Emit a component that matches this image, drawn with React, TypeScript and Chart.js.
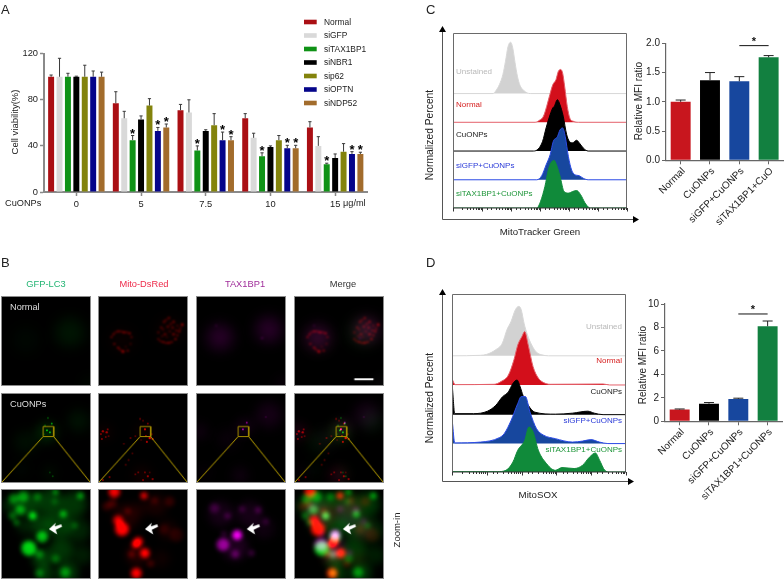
import React, { useEffect, useRef } from "react";
import { Chart, registerables } from "chart.js";

Chart.register(...registerables);
Chart.defaults.font.family = "'Liberation Sans', Arial, sans-serif";
Chart.defaults.devicePixelRatio = 1 as any;

/* ---------- Panel A ---------- */
const doses = ["0", "5", "7.5", "10", "15"];
const seriesNames = ["Normal", "siGFP", "siTAX1BP1", "siNBR1", "sip62", "siOPTN", "siNDP52"];
const seriesColors = ["#aa0f14", "#d9d9d9", "#0f9216", "#000000", "#83830c", "#05058a", "#a26c2c"];
const normalVals = [100, 77, 71, 64, 56];
const normalTop = [101.5, 87, 76, 68, 61];
const sigfpVals = [100, 64, 69, 47, 40];
const sigfpTop = [116, 70, 80, 51, 48];
const tax1bp1Vals = [100, 45, 36, 31, 24];
const tax1bp1Top = [103, 49, 40, 34, 25];
const nbr1Vals = [100, 63, 53, 39, 29.5];
const nbr1Top = [100.5, 66, 54, 40, 33];
const p62Vals = [100, 75, 58, 45, 35];
const p62Top = [110, 81, 68, 49, 42];
const optnVals = [100, 53, 45, 38, 33];
const optnTop = [105, 56, 52, 40.5, 35];
const ndp52Vals = [100, 56, 45, 38, 33];
const ndp52Top = [104, 59, 48, 40.5, 34.5];
const taxStars = [1, 2, 3, 4];
const optnStars = [1, 2, 3, 4];
const ndpStars = [1, 2, 3, 4];

/* ---------- Panels C and D, bars ---------- */
const barColors = ["#c8161e", "#000000", "#17479e", "#128040"];
const cLabels = ["Normal", "CuONPs", "siGFP+CuONPs", "siTAX1BP1+CuO"];
const cVals = [1.0, 1.37, 1.35, 1.76];
const cTop = [1.03, 1.5, 1.43, 1.79];
const dLabels = ["Normal", "CuONPs", "siGFP+CuONPs", "siTAX1BP1+CuONPs"];
const dVals = [1.0, 1.5, 1.9, 8.1];
const dTop = [1.05, 1.6, 1.97, 8.55];

/* ---------- Panels C and D, histograms: log10 intensity, percent of peak ---------- */
const cUnstainedX = [1.38, 1.49, 1.6, 1.72, 1.81, 1.9, 1.99, 2.06, 2.14, 2.22, 2.31, 2.43, 2.56, 2.66];
const cUnstainedY = [0, 6.5, 17.5, 37, 63, 92, 100, 89, 60, 34, 16, 6.5, 1.3, 0];
const cNormalX = [2.83, 2.98, 3.12, 3.23, 3.34, 3.44, 3.55, 3.63, 3.71, 3.78, 3.85, 3.94, 4.03, 4.15, 4.32];
const cNormalY = [0, 4, 12, 31, 54, 73, 83, 99, 103, 96, 70, 31, 8, 2, 0];
const cCuoX = [2.77, 2.94, 3.09, 3.21, 3.35, 3.44, 3.49, 3.6, 3.69, 3.8, 3.92, 4.01, 4.12, 4.26, 4.38, 4.49, 4.66];
const cCuoY = [0, 4, 19, 45, 71, 84, 87, 100, 90, 68, 32, 19, 16, 21, 14, 6, 0];
const cGfpX = [2.89, 3.06, 3.21, 3.35, 3.46, 3.6, 3.69, 3.78, 3.87, 3.98, 4.09, 4.2, 4.35, 4.49, 4.66];
const cGfpY = [0, 8, 29, 49, 75, 84, 97, 101, 84, 45, 19, 10, 8, 3, 0];
const cTaxX = [2.89, 3.02, 3.17, 3.29, 3.38, 3.48, 3.57, 3.69, 3.83, 3.98, 4.12, 4.26, 4.4, 4.55, 4.66, 4.74];
const cTaxY = [0, 13, 42, 75, 88, 93, 84, 62, 32, 29, 32, 34, 26, 10, 2, 0];

const dUnstainedX = [0.82, 1.0, 1.25, 1.45, 1.58, 1.7, 1.82, 1.92, 1.99, 2.07, 2.17, 2.29, 2.43, 2.58, 2.77];
const dUnstainedY = [1, 3, 12, 26, 53, 70, 93, 100, 93, 66, 42, 22, 7, 2, 0];
const dNormalX = [0.01, 0.09, 1.21, 1.41, 1.62, 1.78, 1.89, 2.01, 2.09, 2.19, 2.33, 2.48, 2.63, 2.82, 4.34, 4.53];
const dNormalY = [11, 0.7, 1.4, 7, 20, 51, 81, 98, 108, 81, 37, 14, 5, 1.4, 2, 0];
const dCuoX = [0.01, 0.08, 0.62, 1.02, 1.26, 1.45, 1.62, 1.75, 1.87, 1.96, 2.04, 2.19, 2.38, 2.97, 3.46, 3.9, 4.09, 4.34];
const dCuoY = [56, 2, 2, 7, 19, 36, 46, 63, 70, 56, 39, 19, 5, 1, 3, 7, 3, 0];
const dGfpX = [0.01, 0.08, 0.82, 1.36, 1.5, 1.7, 1.89, 1.99, 2.11, 2.24, 2.43, 2.63, 2.97, 3.46, 3.75, 3.99, 4.24, 4.48];
const dGfpY = [44, 1.4, 3, 12, 20, 47, 81, 95, 95, 64, 30, 17, 10, 3, 5, 8, 3, 0];
const dTaxX = [0.01, 1.31, 1.55, 1.75, 1.89, 2.09, 2.21, 2.33, 2.48, 2.68, 2.97, 3.16, 3.51, 3.75, 3.95, 4.12, 4.24, 4.39, 4.53];
const dTaxY = [0.7, 0.7, 3.4, 20, 44, 64, 91, 81, 44, 20, 3.4, 9, 7, 13.5, 30, 38.5, 24, 3.4, 0];

/* ---------- Panel B: [x, y, radius, opacity] inside a 92-unit field ---------- */
type Spot = number[];
const normalGreenBg: Spot[] = [[71, 37, 15, 0.09], [25, 45, 14, 0.03], [90, 90, 4, 0.12]];
const normalGreenSpots: Spot[] = [];
const normalRedBg: Spot[] = [[24, 45, 12, 0.04], [74, 35, 12, 0.05]];
const normalRedSpots: Spot[] = [
  [13, 42, 1, 0.55], [15, 39, 1, 0.6], [20, 36, 1.1, 0.65], [26, 37, 1.1, 0.75], [32, 38, 1.1, 0.65], [34, 42, 1, 0.45],
  [33, 49, 0.9, 0.35], [30, 56, 1.1, 0.55], [25, 57, 1.4, 0.7], [20, 53, 1.1, 0.65], [16, 49, 1, 0.55], [62, 37, 1, 0.45],
  [65, 32, 1, 0.55], [68, 26, 1.1, 0.55], [73, 22, 1.1, 0.65], [78, 26, 1.1, 0.65], [87, 29, 1.3, 0.65], [84, 36, 1.1, 0.55],
  [80, 44, 1.1, 0.65], [73, 48, 1.1, 0.65], [67, 47, 1.1, 0.65], [62, 44, 1, 0.45], [72, 31, 1.1, 0.55], [77, 32, 1.1, 0.55],
  [69, 39, 1.1, 0.55], [78, 39, 1.1, 0.65], [82, 30, 0.9, 0.45], [66, 41, 0.9, 0.45], [17, 37, 1, 0.45], [23, 36, 1, 0.55],
  [29, 37, 1, 0.55], [22, 55, 1, 0.55], [70, 48, 1, 0.55], [76, 47, 1, 0.55], [64, 46, 1, 0.45], [70, 24, 1, 0.45], [85, 33, 1, 0.45],
  [75, 28, 1, 0.5], [81, 35, 1, 0.5], [74, 36, 0.9, 0.4], [67, 34, 0.9, 0.4], [82, 40, 1, 0.5], [71, 42, 0.8, 0.35], [28, 52, 0.8, 0.35],
];
const normalPurpleBg: Spot[] = [[24, 42, 13, 0.17], [75, 34, 13, 0.17], [90, 91, 3, 0.3]];
const normalPurpleSpots: Spot[] = [[20, 30, 0.8, 0.3], [68, 43, 0.9, 0.4]];

const cuoGreenBg: Spot[] = [[47, 40, 10, 0.17], [80, 28, 11, 0.08], [25, 50, 12, 0.06], [50, 82, 6, 0.07], [20, 78, 8, 0.03]];
const cuoGreenSpots: Spot[] = [
  [47, 38, 0.9, 0.8], [52, 31, 0.9, 0.8], [45, 33, 0.7, 0.6], [50, 40, 1, 0.7], [48, 25, 0.8, 0.5], [44, 42, 0.7, 0.4],
  [53, 86, 0.8, 0.4], [50, 82, 0.7, 0.4], [54, 36, 0.7, 0.5],
];
const cuoRedBg: Spot[] = [[6, 40, 7, 0.07], [47, 40, 9, 0.06], [45, 85, 9, 0.07]];
const cuoRedSpots: Spot[] = [
  [4, 39, 1.2, 0.6], [8, 40, 1.2, 0.6], [3, 47, 1, 0.5], [9, 37, 1, 0.5], [7, 45, 0.9, 0.45], [2, 42, 1, 0.5], [10, 44, 0.9, 0.4],
  [48, 37, 1.1, 0.8], [53, 46, 1.3, 0.8], [56, 47, 1.1, 0.7], [43, 26, 0.9, 0.5], [51, 31, 0.9, 0.6], [33, 46, 0.9, 0.45],
  [26, 52, 0.9, 0.4], [31, 69, 0.9, 0.4], [28, 74, 0.9, 0.4], [41, 82, 0.9, 0.45], [51, 86, 1.1, 0.55], [56, 89, 1.1, 0.55],
  [46, 90, 1, 0.5], [11, 87, 1, 0.5], [4, 90, 1, 0.55], [38, 44, 0.9, 0.4], [50, 50, 1.1, 0.65], [35, 62, 0.9, 0.35],
  [46, 28, 0.8, 0.45], [49, 44, 1, 0.6], [55, 42, 0.9, 0.5], [44, 48, 0.8, 0.35], [38, 84, 0.9, 0.4], [48, 82, 0.9, 0.45], [53, 82, 0.8, 0.4],
];
const cuoPurpleBg: Spot[] = [[75, 22, 13, 0.09], [50, 34, 7, 0.13], [3, 39, 8, 0.07], [45, 85, 8, 0.08], [32, 47, 11, 0.04], [8, 82, 5, 0.06]];
const cuoPurpleSpots: Spot[] = [[48, 37, 0.9, 0.8], [52, 30, 0.9, 0.7], [72, 24, 0.8, 0.25]];

const zoomGreenBg: Spot[] = [
  [25, 14, 13, 0.26], [50, 12, 13, 0.24], [75, 15, 13, 0.22], [60, 36, 13, 0.24], [80, 42, 12, 0.15], [40, 36, 11, 0.24],
  [62, 62, 12, 0.22], [84, 68, 10, 0.12], [42, 72, 10, 0.26], [68, 86, 11, 0.24], [8, 16, 7, 0.18], [22, 38, 6, 0.18], [45, 88, 8, 0.24], [28, 55, 6, 0.15],
];
const zoomGreenSpots: Spot[] = [
  [32, 27, 3.8, 0.85], [42, 49, 5.8, 0.75], [28, 61, 7.5, 0.85], [19, 21, 5, 0.5], [12, 9, 5, 0.42], [64, 25, 3.5, 0.6],
  [82, 6, 3.5, 0.55], [56, 2, 2.8, 0.55], [15, 34, 3, 0.45], [22, 7, 5.5, 0.45], [39, 67, 4.2, 0.38], [56, 72, 4.2, 0.32], [39, 87, 4.2, 0.38],
  [66, 86, 5, 0.42], [76, 37, 3, 0.28], [11, 27, 4, 0.4], [37, 7, 4, 0.32], [55, 12, 3, 0.22],
];
const zoomRedBg: Spot[] = [[28, 28, 13, 0.12], [60, 16, 11, 0.09], [72, 42, 10, 0.08], [40, 68, 11, 0.12], [65, 72, 9, 0.06], [42, 20, 8, 0.07]];
const zoomRedSpots: Spot[] = [
  [16, 2, 5.8, 0.95], [47, 6, 3.5, 0.9], [24, 41, 7, 1], [20, 32, 5, 0.85], [41, 54, 4.6, 1], [38, 57, 3.6, 0.9],
  [48, 66, 4.8, 1], [39, 87, 5.4, 1], [74, 12, 5, 0.18], [81, 47, 7, 0.12], [58, 11, 3.5, 0.2], [8, 17, 4.5, 0.2],
  [34, 67, 3.5, 0.3], [54, 77, 3.5, 0.25], [14, 14, 4.5, 0.25], [68, 41, 5, 0.12], [30, 22, 3, 0.25],
];
const zoomPurpleBg: Spot[] = [[25, 25, 13, 0.09], [55, 25, 13, 0.09], [40, 60, 13, 0.12], [70, 40, 11, 0.06]];
const zoomPurpleSpots: Spot[] = [
  [42, 47, 5, 1], [27, 57, 6.5, 0.6], [40, 67, 4, 0.32], [57, 66, 3, 0.26], [18, 19, 5, 0.2], [32, 27, 3, 0.26],
  [64, 21, 3, 0.3], [72, 33, 3, 0.2], [47, 20, 3, 0.22], [28, 46, 2.8, 0.22],
];

const histColors: Record<string, [string, string]> = {
  Unstained: ["#d2d2d2", "#d8d8d8"],
  Normal: ["#d30f1b", "#e4606a"],
  CuONPs: ["#000000", "#000000"],
  "siGFP+CuONPs": ["#17479e", "#2b4ae6"],
  "siTAX1BP1+CuONPs": ["#108a3a", "#108a3a"],
};
const histNames = ["Unstained", "Normal", "CuONPs", "siGFP+CuONPs", "siTAX1BP1+CuONPs"];

/* ---------- plugins ---------- */
const errorBars = {
  id: "errorBars",
  afterDatasetsDraw(chart: any) {
    const { ctx } = chart;
    const y = chart.scales.y;
    chart.data.datasets.forEach((ds: any, i: number) => {
      if (!ds.upper) return;
      chart.getDatasetMeta(i).data.forEach((bar: any, k: number) => {
        const yTop = y.getPixelForValue(ds.upper[k]);
        const yVal = y.getPixelForValue(ds.data[k]);
        ctx.save();
        ctx.strokeStyle = ds.errorColor || "#3a3a3a";
        ctx.lineWidth = 1;
        ctx.beginPath();
        ctx.moveTo(bar.x, yVal);
        ctx.lineTo(bar.x, yTop);
        ctx.moveTo(bar.x - (ds.capHalf || 1.6), yTop);
        ctx.lineTo(bar.x + (ds.capHalf || 1.6), yTop);
        ctx.stroke();
        if (ds.stars && ds.stars.includes(k)) {
          ctx.fillStyle = "#000";
          ctx.font = "bold 13px 'Liberation Sans'";
          ctx.textAlign = "center";
          ctx.textBaseline = "alphabetic";
          ctx.fillText("*", bar.x, yTop - 5.5 + 7.5);
        }
        ctx.restore();
      });
    });
  },
};

const legendA = {
  id: "legendA",
  afterDraw(chart: any) {
    const { ctx } = chart;
    chart.data.datasets.forEach((ds: any, i: number) => {
      const y = 22 + i * 13.5;
      ctx.save();
      ctx.fillStyle = ds.backgroundColor;
      ctx.fillRect(304, y - 2.3, 12.7, 4.6);
      ctx.fillStyle = "#222";
      ctx.font = "8.4px 'Liberation Sans'";
      ctx.textBaseline = "middle";
      ctx.textAlign = "left";
      ctx.fillText(ds.label, 324, y + 0.3);
      ctx.restore();
    });
  },
};

const sigLine = {
  id: "sigLine",
  afterDraw(chart: any) {
    const o = chart.options.plugins.sigLine;
    if (!o || o.level === undefined) return;
    const { ctx } = chart;
    const x = chart.scales.x;
    const y = chart.scales.y.getPixelForValue(o.level);
    ctx.save();
    ctx.strokeStyle = "#111";
    ctx.lineWidth = 1;
    ctx.beginPath();
    ctx.moveTo(x.getPixelForValue(o.from), y);
    ctx.lineTo(x.getPixelForValue(o.to), y);
    ctx.stroke();
    ctx.fillStyle = "#111";
    ctx.font = "bold 11px 'Liberation Sans'";
    ctx.textAlign = "center";
    ctx.textBaseline = "alphabetic";
    ctx.fillText("*", (x.getPixelForValue(o.from) + x.getPixelForValue(o.to)) / 2, y - 0.5);
    ctx.restore();
  },
};

const histFrame = {
  id: "histFrame",
  afterDraw(chart: any) {
    const { ctx, chartArea: a } = chart;
    const o = chart.options.plugins.histFrame;
    ctx.save();
    ctx.strokeStyle = "#6a6a6a";
    ctx.lineWidth = 1;
    ctx.beginPath();
    ctx.moveTo(a.left + 0.5, a.bottom);
    ctx.lineTo(a.left + 0.5, a.top + 0.5);
    ctx.lineTo(a.right - 0.5, a.top + 0.5);
    ctx.lineTo(a.right - 0.5, a.bottom);
    ctx.stroke();
    ctx.strokeStyle = "#333";
    ctx.beginPath();
    ctx.moveTo(a.left, a.bottom);
    ctx.lineTo(a.right, a.bottom);
    chart.scales.x.ticks.forEach((t: any) => {
      const px = Math.round(chart.scales.x.getPixelForValue(t.value)) + 0.5;
      ctx.moveTo(px, a.bottom);
      ctx.lineTo(px, a.bottom + (t.major ? 3.5 : 2));
    });
    ctx.stroke();
    const ox = o.axisX, ot = o.axisTop, ob = o.axisBottom, or = o.axisRight;
    ctx.strokeStyle = "#555";
    ctx.beginPath();
    ctx.moveTo(ox + 0.5, ot);
    ctx.lineTo(ox + 0.5, ob + 0.5);
    ctx.lineTo(or, ob + 0.5);
    ctx.stroke();
    ctx.fillStyle = "#000";
    ctx.beginPath();
    ctx.moveTo(ox + 0.5, ot - 1);
    ctx.lineTo(ox - 3, ot + 5);
    ctx.lineTo(ox + 4, ot + 5);
    ctx.closePath();
    ctx.moveTo(or + 1, ob + 0.5);
    ctx.lineTo(or - 5, ob - 3);
    ctx.lineTo(or - 5, ob + 4);
    ctx.closePath();
    ctx.fill();
    ctx.restore();
  },
};

const glow = {
  id: "glow",
  beforeDraw(chart: any) {
    chart.ctx.save();
    chart.ctx.fillStyle = "#000";
    chart.ctx.fillRect(0, 0, chart.width, chart.height);
    chart.ctx.restore();
  },
  beforeDatasetDraw(chart: any, args: any) {
    const ds = chart.data.datasets[args.index];
    if (ds.blur === undefined) return;
    chart.ctx.save();
    chart.ctx.globalCompositeOperation = "lighter";
    chart.ctx.filter = `blur(${ds.blur}px)`;
  },
  afterDatasetDraw(chart: any, args: any) {
    const ds = chart.data.datasets[args.index];
    if (ds.blur === undefined) return;
    chart.ctx.restore();
  },
  afterDraw(chart: any) {
    const tip = chart.options.plugins.glow?.tip;
    if (!tip) return;
    const { ctx } = chart;
    const x = chart.scales.x.getPixelForValue(tip[0]);
    const y = chart.scales.y.getPixelForValue(tip[1]);
    const shape = [[0, 0], [7, -6.5], [6, -2.8], [12.5, -5], [13.5, -2.6], [7, 0.6], [8.5, 5.5]];
    ctx.save();
    ctx.fillStyle = "#fff";
    ctx.beginPath();
    shape.forEach(([dx, dy], i) => (i ? ctx.lineTo(x + dx, y + dy) : ctx.moveTo(x + dx, y + dy)));
    ctx.closePath();
    ctx.fill();
    ctx.restore();
  },
};

/* ---------- config builders ---------- */
const AXIS_W = 40;
const AXIS_H = 16;
const MFI_H = 85;
const fixW = (s: any) => { s.width = AXIS_W; };
const fixH = (h: number) => (s: any) => { s.height = h; };
const pad = (l: number, t: number, r: number, b: number, h: number) => ({ left: l - AXIS_W, top: t, right: 784 - r, bottom: 581 - b - h });

function axisBits(color: string, width: number) {
  return {
    border: { color, width },
    grid: { display: true, drawOnChartArea: false, drawTicks: true, tickLength: 4, tickColor: color, tickWidth: width > 1.5 ? 1.5 : 1, offset: false },
  };
}

function configA() {
  const vals = [normalVals, sigfpVals, tax1bp1Vals, nbr1Vals, p62Vals, optnVals, ndp52Vals];
  const tops = [normalTop, sigfpTop, tax1bp1Top, nbr1Top, p62Top, optnTop, ndp52Top];
  const stars: Record<number, number[]> = { 2: taxStars, 5: optnStars, 6: ndpStars };
  return {
    type: "bar",
    data: {
      labels: doses,
      datasets: seriesNames.map((label, i) => ({
        label, data: vals[i], upper: tops[i], stars: stars[i],
        backgroundColor: seriesColors[i], categoryPercentage: 0.91, barPercentage: 0.71,
      })),
    },
    options: {
      responsive: false, animation: false, events: [],
      layout: { padding: pad(44, 53.7, 367.5, 192, AXIS_H), autoPadding: false },
      plugins: { legend: { display: false }, tooltip: { enabled: false } },
      scales: {
        x: { afterFit: fixH(AXIS_H), ...axisBits("#8a8a8a", 2), ticks: { color: "#222", font: { size: 9.3 }, padding: 3, maxRotation: 0 } },
        y: { afterFit: fixW, min: 0, max: 120, ...axisBits("#8a8a8a", 2), ticks: { color: "#222", font: { size: 9.3 }, stepSize: 40, padding: 2 } },
      },
    },
    plugins: [errorBars, legendA],
  };
}

function configMfi(labels: string[], vals: number[], tops: number[], max: number, step: number, digits: number, box: number[], level: number) {
  return {
    type: "bar",
    data: {
      labels,
      datasets: [{ data: vals, upper: tops, errorColor: "#222", capHalf: 5, backgroundColor: barColors, categoryPercentage: 1, barPercentage: 0.68 }],
    },
    options: {
      responsive: false, animation: false, events: [],
      layout: { padding: pad(box[0], box[1], box[2], box[3], MFI_H), autoPadding: false },
      plugins: { legend: { display: false }, tooltip: { enabled: false }, sigLine: { from: 2, to: 3, level } },
      scales: {
        x: { afterFit: fixH(MFI_H), ...axisBits("#666", 1.2), ticks: { color: "#222", font: { size: 10 }, padding: 1, labelOffset: 3, minRotation: 45, maxRotation: 45, autoSkip: false } },
        y: {
          afterFit: fixW, min: 0, max, ...axisBits("#666", 1.2),
          ticks: { color: "#222", font: { size: 10 }, stepSize: step, padding: 2, callback: (v: number) => v.toFixed(digits) },
        },
      },
    },
    plugins: [errorBars, sigLine],
  };
}

function configHist(xs: number[][], ys: number[][], offsets: number[], yMax: number, xMax: number, box: number[], arrows: any) {
  return {
    type: "line",
    data: {
      datasets: histNames.map((name, i) => ({
        label: name,
        data: [[0, 0], ...xs[i].map((l, k) => [l, ys[i][k]]), [Math.log10(xMax), 0]]
          .filter((p, k) => (k === 0 ? xs[i][0] > 0.02 : true))
          .map(([l, v]) => ({ x: Math.pow(10, l), y: offsets[i] + v })),
        borderColor: histColors[name][1],
        backgroundColor: histColors[name][0],
        borderWidth: 1,
        pointRadius: 0,
        cubicInterpolationMode: "monotone",
        fill: { value: offsets[i] },
        order: 5 - i,
      })),
    },
    options: {
      responsive: false, animation: false, events: [],
      layout: { padding: { left: box[0], top: box[1], right: 784 - box[2], bottom: 581 - box[3] - 2 }, autoPadding: false },
      plugins: { legend: { display: false }, tooltip: { enabled: false }, histFrame: arrows },
      scales: {
        x: { type: "logarithmic", min: 1, max: xMax, afterFit: fixH(2), border: { display: false }, grid: { display: false }, ticks: { display: false, autoSkip: false } },
        y: { display: false, min: 0, max: yMax },
      },
    },
    plugins: [histFrame],
  };
}

function panelConfig(layers: { color: number[]; bg: Spot[]; spots: Spot[] }[], blurBg: number, blurSpot: number, opts: { box?: boolean; bar?: boolean; tip?: number[] }) {
  const toPts = (a: Spot[]) => a.map(([x, y, r, al]) => ({ x, y, r, al }));
  const fill = (c: number[]) => (ctx: any) => `rgba(${c[0]},${c[1]},${c[2]},${ctx.raw ? ctx.raw.al : 0})`;
  const datasets: any[] = [];
  layers.forEach((l) => {
    datasets.push({ type: "bubble", data: toPts(l.bg), blur: blurBg, backgroundColor: fill(l.color), borderWidth: 0 });
    datasets.push({ type: "bubble", data: toPts(l.spots), blur: blurSpot, backgroundColor: fill(l.color), borderWidth: 0 });
  });
  const line = (pts: number[][], color: string, w: number) => ({
    type: "line", data: pts.map(([x, y]) => ({ x, y })), borderColor: color, borderWidth: w, pointRadius: 0, fill: false, order: -1,
  });
  if (opts.box) {
    datasets.push(line(yellowBox, "#a89000", 1));
    datasets.push(line(yellowLeft, "#c2a800", 1));
    datasets.push(line(yellowRight, "#c2a800", 1));
  }
  if (opts.bar) datasets.push(line(scaleBar, "#ffffff", 2));
  return {
    type: "bubble",
    data: { datasets },
    options: {
      responsive: false, animation: false, events: [],
      layout: { padding: 0, autoPadding: false },
      plugins: { legend: { display: false }, tooltip: { enabled: false }, glow: { tip: opts.tip } },
      scales: {
        x: { type: "linear", display: false, min: 0, max: 92 },
        y: { type: "linear", display: false, min: 0, max: 92, reverse: true },
      },
    },
    plugins: [glow],
  };
}

const yellowBox = [[43, 34], [54, 34], [54, 44.5], [43, 44.5], [43, 34]];
const yellowLeft = [[43, 44.5], [0, 92]];
const yellowRight = [[54, 44.5], [92, 92]];
const scaleBar = [[62, 86], [82, 86]];

const GREEN = [0, 235, 20];
const RED = [255, 0, 0];
const PURPLE = [235, 0, 235];

const rows = [
  {
    top: 296, blurBg: 7, blurSpot: 0.8, opts: {},
    layers: [
      { color: GREEN, bg: normalGreenBg, spots: normalGreenSpots },
      { color: RED, bg: normalRedBg, spots: normalRedSpots },
      { color: PURPLE, bg: normalPurpleBg, spots: normalPurpleSpots },
    ],
  },
  {
    top: 393, blurBg: 6, blurSpot: 0.7, opts: { box: true },
    layers: [
      { color: GREEN, bg: cuoGreenBg, spots: cuoGreenSpots },
      { color: RED, bg: cuoRedBg, spots: cuoRedSpots },
      { color: PURPLE, bg: cuoPurpleBg, spots: cuoPurpleSpots },
    ],
  },
  {
    top: 489, blurBg: 4, blurSpot: 1.9, opts: {},
    layers: [
      { color: GREEN, bg: zoomGreenBg, spots: zoomGreenSpots },
      { color: RED, bg: zoomRedBg, spots: zoomRedSpots },
      { color: PURPLE, bg: zoomPurpleBg, spots: zoomPurpleSpots },
    ],
  },
];
const colLefts = [1, 98, 196, 294];
const zoomTips = [[49, 41], [48, 41], [52, 41], [50, 41]];

function ChartCanvas({ make, w, h, style }: { make: () => any; w: number; h: number; style: any }) {
  const ref = useRef<HTMLCanvasElement>(null);
  useEffect(() => {
    const chart = new Chart(ref.current as HTMLCanvasElement, make());
    return () => chart.destroy();
  }, []);
  return <canvas ref={ref} width={w} height={h} style={{ position: "absolute", display: "block", width: w, height: h, ...style }} />;
}

function Label({ t, x, y, size = 9, color = "#222", a = "c", rot = 0 }: { t: string; x: number; y: number; size?: number; color?: string; a?: string; rot?: number }) {
  const tx = a === "l" ? "0" : a === "r" ? "-100%" : "-50%";
  return (
    <div style={{
      position: "absolute", left: x, top: y, fontSize: size, color, lineHeight: 1, whiteSpace: "nowrap",
      fontFamily: "'Liberation Sans', Arial, sans-serif", transform: `translate(${tx},-50%) rotate(${rot}deg)`,
    }}>{t}</div>
  );
}

const histLabelColors = ["#b9b9b9", "#d62020", "#222222", "#2a3ad8", "#1f963a"];
const cLabelYs = [72, 105, 135, 166, 194];
const dLabelYs = [327, 361, 392, 421, 450];

export default function App() {
  return (
    <div style={{ position: "fixed", left: 0, top: 0, width: 784, height: 581, background: "#fff", overflow: "hidden" }}>
      <ChartCanvas w={784} h={581} style={{ left: 0, top: 0 }} make={configA} />
      <ChartCanvas w={784} h={581} style={{ left: 0, top: 0 }} make={() => configHist(
        [cUnstainedX, cNormalX, cCuoX, cGfpX, cTaxX], [cUnstainedY, cNormalY, cCuoY, cGfpY, cTaxY],
        [223, 167, 111, 55, 0], 341, 1e6, [453, 33, 627, 208],
        { axisX: 442, axisTop: 27, axisBottom: 219, axisRight: 638 })} />
      <ChartCanvas w={784} h={581} style={{ left: 0, top: 0 }} make={() => configHist(
        [dUnstainedX, dNormalX, dCuoX, dGfpX, dTaxX], [dUnstainedY, dNormalY, dCuoY, dGfpY, dTaxY],
        [235, 176, 116, 57.5, 0], 360, 1e5, [452, 294, 626, 472],
        { axisX: 442, axisTop: 290, axisBottom: 481, axisRight: 633 })} />
      <ChartCanvas w={784} h={581} style={{ left: 0, top: 0 }} make={() => configMfi(cLabels, cVals, cTop, 2, 0.5, 1, [666, 43.3, 783.3, 160.3], 1.96)} />
      <ChartCanvas w={784} h={581} style={{ left: 0, top: 0 }} make={() => configMfi(dLabels, dVals, dTop, 10, 2, 0, [665, 304, 782.3, 421.3], 9.15)} />
      {rows.map((row, ri) => colLefts.map((left, ci) => {
        const layers = ci < 3 ? [row.layers[ci]] : row.layers;
        const opts: any = { ...row.opts };
        if (ri === 0 && ci === 3) opts.bar = true;
        if (ri === 2) opts.tip = zoomTips[ci];
        return (
          <ChartCanvas key={`${ri}-${ci}`} w={90} h={90}
            style={{ left, top: row.top, border: "1px solid #8c8c8c" }}
            make={() => panelConfig(layers, row.blurBg, row.blurSpot, opts)} />
        );
      }))}

      <Label t="A" x={1} y={9} size={13} a="l" />
      <Label t="B" x={1} y={262} size={13} a="l" />
      <Label t="C" x={426} y={9} size={13} a="l" />
      <Label t="D" x={426} y={262} size={13} a="l" />

      <Label t="Cell viability(%)" x={15} y={122} size={9.5} rot={-90} />
      <Label t="CuONPs" x={5} y={204} size={9.2} a="l" />
      <Label t="μg/ml" x={343} y={204} size={9.2} a="l" />

      <Label t="GFP-LC3" x={46} y={285} color="#22b573" size={9.3} />
      <Label t="Mito-DsRed" x={144} y={285} color="#ee2a4a" size={9.3} />
      <Label t="TAX1BP1" x={245} y={285} color="#a02d9a" size={9.3} />
      <Label t="Merge" x={343} y={285} color="#333" size={9.3} />
      <Label t="Normal" x={10} y={308} color="#dddddd" size={9.2} a="l" />
      <Label t="CuONPs" x={10} y={405} color="#dddddd" size={9.2} a="l" />
      <Label t="Zoom-in" x={397} y={530} size={9.5} rot={-90} />

      {histNames.map((n, i) => <Label key={"c" + n} t={n} x={456} y={cLabelYs[i]} size={8} color={histLabelColors[i]} a="l" />)}
      {histNames.map((n, i) => <Label key={"d" + n} t={n} x={622} y={dLabelYs[i]} size={8} color={histLabelColors[i]} a="r" />)}

      <Label t="Normalized Percent" x={430} y={135} size={10.3} rot={-90} />
      <Label t="MitoTracker Green" x={540} y={232} size={9.7} />
      <Label t="Normalized Percent" x={430} y={398} size={10.3} rot={-90} />
      <Label t="MitoSOX" x={538} y={495} size={9.7} />
      <Label t="Relative MFI ratio" x={639} y={101} size={10} rot={-90} />
      <Label t="Relative MFI ratio" x={643} y={365} size={10} rot={-90} />
    </div>
  );
}
